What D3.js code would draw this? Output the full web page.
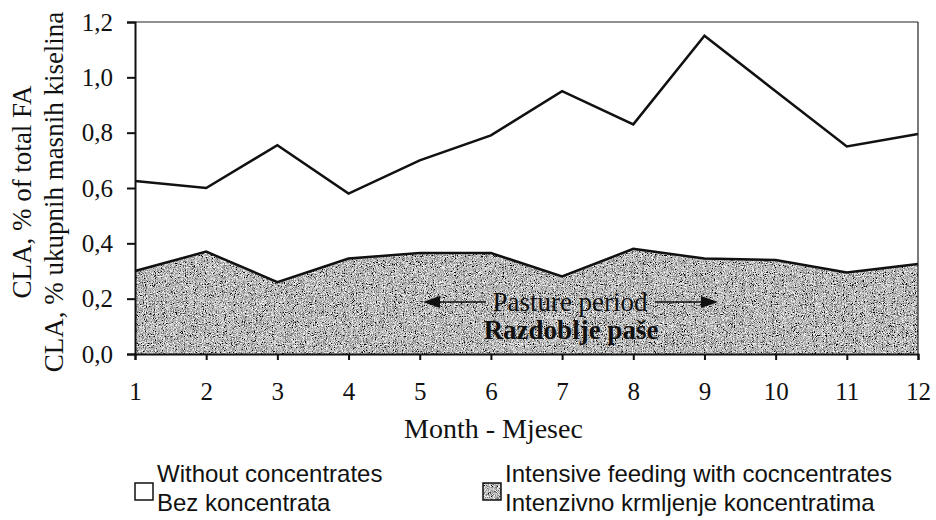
<!DOCTYPE html>
<html>
<head>
<meta charset="utf-8">
<script src="https://cdn.jsdelivr.net/npm/d3@7"></script>
<style>
  body { margin: 0; background: #fff; }
  svg { display: block; }
  .serif { font-family: "Liberation Serif", "Times New Roman", serif; }
  .sans { font-family: "Liberation Sans", Arial, sans-serif; }
</style>
</head>
<body>
<svg id="chart" width="936" height="520"></svg>
<script>
// month numbers along the x axis
const months = [1, 2, 3, 4, 5, 6, 7, 8, 9, 10, 11, 12];
// CLA, % of total FA
const withoutConc = [0.625, 0.60, 0.755, 0.58, 0.70, 0.79, 0.95, 0.83, 1.15, 0.95, 0.75, 0.795];
const intensive = [0.30, 0.37, 0.26, 0.345, 0.365, 0.365, 0.28, 0.38, 0.345, 0.34, 0.295, 0.325];
const yTicks = [0, 0.2, 0.4, 0.6, 0.8, 1.0, 1.2];
const legendItems = [
  { lines: ["Without concentrates", "Bez koncentrata"], fill: "white" },
  { lines: ["Intensive feeding with cocncentrates", "Intenzivno krmljenje koncentratima"], fill: "grain" }
];

const svg = d3.select("#chart");
const m = { left: 135, right: 18, top: 22, bottom: 166 };
const W = 936, H = 520;

const x = d3.scaleLinear().domain([1, 12]).range([m.left, W - m.right]);
const y = d3.scaleLinear().domain([0, 1.2]).range([H - m.bottom, m.top]);

// speckled gray like the scanned print
const defs = svg.append("defs");
const f = defs.append("filter").attr("id", "grain")
  .attr("x", 0).attr("y", 0).attr("width", 1).attr("height", 1);
f.append("feTurbulence").attr("type", "fractalNoise")
  .attr("baseFrequency", 1.1).attr("numOctaves", 2).attr("seed", 3).attr("result", "n");
f.append("feColorMatrix").attr("in", "n").attr("type", "matrix")
  .attr("values", "0.33 0.33 0.33 0 0 0.33 0.33 0.33 0 0 0.33 0.33 0.33 0 0 0 0 0 0 1")
  .attr("result", "g");
const ct = f.append("feComponentTransfer").attr("in", "g").attr("result", "c");
["feFuncR", "feFuncG", "feFuncB"].forEach(fn =>
  ct.append(fn).attr("type", "linear").attr("slope", 3.6).attr("intercept", -1.3));
f.append("feComposite").attr("in", "c").attr("in2", "SourceGraphic").attr("operator", "in");

const area = d3.area().x((d, i) => x(months[i])).y0(y(0)).y1(d => y(d));
const line = d3.line().x((d, i) => x(months[i])).y(d => y(d));

// intensive feeding area
svg.append("path").datum(intensive)
  .attr("d", area).attr("fill", "#808080").attr("filter", "url(#grain)");
svg.append("path").datum(intensive)
  .attr("d", line).attr("fill", "none").attr("stroke", "#111").attr("stroke-width", 2.5);

// without concentrates line
svg.append("path").datum(withoutConc)
  .attr("d", line).attr("fill", "none").attr("stroke", "#111").attr("stroke-width", 2.5);

// frame top + right
svg.append("line").attr("x1", m.left).attr("x2", W - m.right).attr("y1", y(1.2)).attr("y2", y(1.2))
  .attr("stroke", "#222").attr("stroke-width", 1.2);
svg.append("line").attr("x1", W - m.right).attr("x2", W - m.right).attr("y1", y(1.2)).attr("y2", y(0))
  .attr("stroke", "#222").attr("stroke-width", 1.2);

// axes
const yAxis = svg.append("g")
  .attr("transform", `translate(${m.left},0)`)
  .call(d3.axisLeft(y).tickValues(yTicks).tickSize(8).tickPadding(14)
    .tickFormat(d => d3.format(".1f")(d).replace(".", ",")));
const xAxis = svg.append("g")
  .attr("transform", `translate(0,${y(0)})`)
  .call(d3.axisBottom(x).tickValues(months).tickSize(6).tickPadding(22).tickFormat(d3.format("d")));
[yAxis, xAxis].forEach(g => {
  g.select(".domain").attr("stroke", "#111").attr("stroke-width", 2);
  g.selectAll(".tick line").attr("stroke", "#111").attr("stroke-width", 2);
  g.selectAll(".tick text").attr("fill", "#111").style("font-size", "25px")
    .style("font-family", "Liberation Serif, serif");
});

// axis titles
svg.append("text").attr("class", "serif")
  .attr("x", 404).attr("y", 438).attr("text-anchor", "start")
  .style("font-size", "28px").attr("fill", "#111").text("Month - Mjesec");
const yt = svg.append("text").attr("class", "serif")
  .attr("transform", "translate(31,192) rotate(-90)").attr("text-anchor", "middle")
  .style("font-size", "27px").attr("fill", "#111");
yt.append("tspan").attr("x", 0).attr("dy", 0).text("CLA, % of total FA");
yt.append("tspan").attr("x", 0).attr("dy", 32).text("CLA, % ukupnih masnih kiselina");

// pasture period annotation
const ann = svg.append("g").attr("class", "serif").attr("fill", "#111");
ann.append("text").attr("x", 570).attr("y", 311).attr("text-anchor", "middle")
  .style("font-size", "27px").text("Pasture period");
ann.append("text").attr("x", 571).attr("y", 339).attr("text-anchor", "middle")
  .style("font-size", "27px").style("font-weight", "bold").text("Razdoblje paše");
const arrowY = 302;
ann.append("line").attr("x1", 436).attr("x2", 486).attr("y1", arrowY).attr("y2", arrowY)
  .attr("stroke", "#111").attr("stroke-width", 1.5);
ann.append("path").attr("d", `M423,${arrowY} L440,${arrowY - 6} L440,${arrowY + 6} Z`);
ann.append("line").attr("x1", 655).attr("x2", 705).attr("y1", arrowY).attr("y2", arrowY)
  .attr("stroke", "#111").attr("stroke-width", 1.5);
ann.append("path").attr("d", `M718,${arrowY} L701,${arrowY - 6} L701,${arrowY + 6} Z`);

// legend
const legX = [135, 483];
legendItems.forEach((it, i) => {
  const g = svg.append("g").attr("transform", `translate(${legX[i]},0)`);
  g.append("rect").attr("x", 0).attr("y", 483).attr("width", 18).attr("height", 17)
    .attr("fill", it.fill === "white" ? "white" : "#808080")
    .attr("filter", it.fill === "white" ? null : "url(#grain)");
  g.append("rect").attr("x", 0).attr("y", 483).attr("width", 18).attr("height", 17)
    .attr("fill", "none").attr("stroke", "#111").attr("stroke-width", 1.5);
  it.lines.forEach((t, j) => {
    g.append("text").attr("class", "sans").attr("x", 22).attr("y", 482 + j * 29)
      .style("font-size", "24px").attr("fill", "#111").text(t);
  });
});
</script>
</body>
</html>
